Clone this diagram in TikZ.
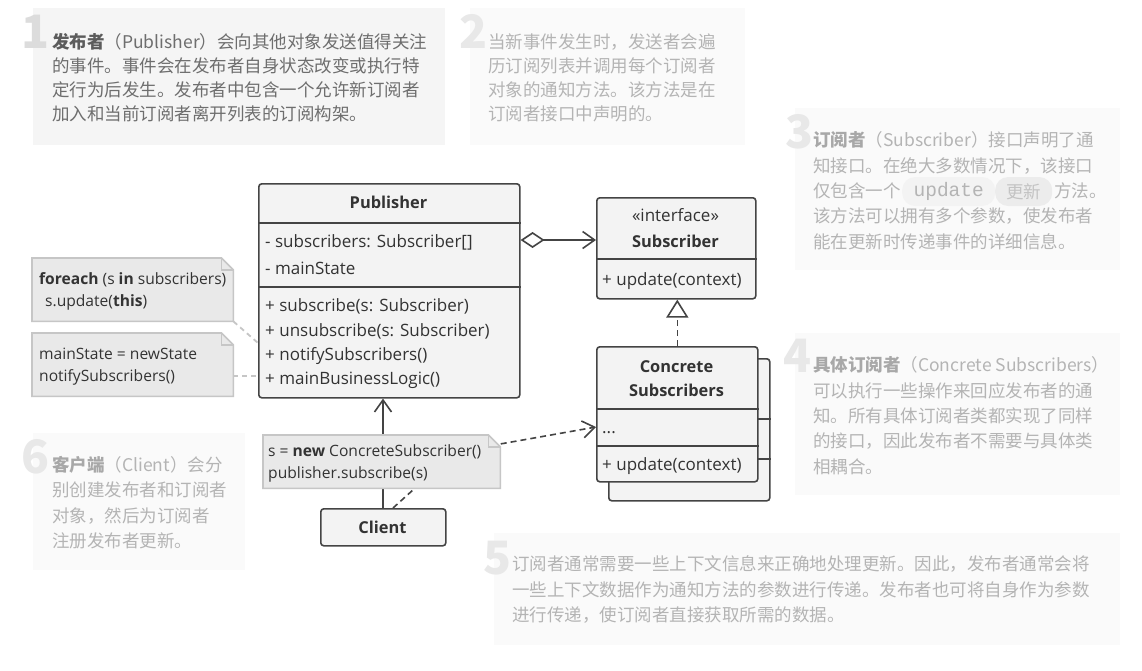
\documentclass[tikz,border=0pt]{standalone}
\usepackage{fontspec}
\setmainfont{Open Sans}
\newfontfamily\cjk{Noto Sans CJK SC}
\newfontfamily\codefont{Liberation Mono}
\usetikzlibrary{arrows.meta}
\definecolor{pbgA}{HTML}{F5F5F5}
\definecolor{pbg}{HTML}{FAFAFA}
\definecolor{ptxtA}{HTML}{6E6E6E}
\definecolor{ptxtAb}{HTML}{5C5C5C}
\definecolor{ptxt}{HTML}{B4B4B4}
\definecolor{ptxtb}{HTML}{A8A8A8}
\definecolor{digA}{HTML}{DCDCDC}
\definecolor{dig}{HTML}{E8E8E8}
\definecolor{umlline}{HTML}{444444}
\definecolor{umlfill}{HTML}{F3F3F3}
\definecolor{umltext}{HTML}{333333}
\definecolor{notefill}{HTML}{E9E9E9}
\definecolor{noteline}{HTML}{C6C6C6}
\definecolor{pillA}{HTML}{F3F3F3}
\definecolor{pillB}{HTML}{ECECEC}
\newcommand\umlfont{\fontsize{17}{20}\selectfont}
\newcommand\umltitlefont{\fontsize{16.4}{20}\selectfont\bfseries}
\newcommand\notefont{\fontsize{15.6}{20}\selectfont}
\newcommand\pfont{\cjk\fontsize{17.5}{24}\selectfont}
\newcommand\pfontb{\cjk\fontsize{17.5}{25.3}\selectfont}
\tikzset{
  digit/.style={anchor=base west, inner sep=0, font=\cjk\bfseries\fontsize{46}{46}\selectfont, text=#1},
  ptext/.style={anchor=base west, inner sep=0, align=left, text=#1},
  umlbox/.style={draw=umlline, fill=umlfill, line width=1.6pt, rounded corners=3pt, inner sep=0, anchor=north west},
  divider/.style={draw=umlline, line width=1.6pt},
  umltxt/.style={anchor=base west, inner sep=0, font=\umlfont, text=umltext},
  umltitle/.style={anchor=base, inner sep=0, font=\umltitlefont, text=umltext},
  notebox/.style={inner sep=0, anchor=north west},
  noteshape/.style={fill=notefill, draw=noteline, line width=1.6pt},
  notetxt/.style={anchor=base west, inner sep=0, font=\notefont, text=umltext},
  noteconn/.style={draw=noteline, line width=1.8pt, dash pattern=on 5pt off 4pt},
  conn/.style={draw=umlline, line width=1.6pt},
  dep/.style={conn, dash pattern=on 6pt off 4pt},
  openhead/.style={-{Straight Barb[length=12pt,width=17pt]}},
  pill/.style={inner sep=0, rounded corners=13pt, fill=#1, anchor=west},
}
\begin{document}
\begin{tikzpicture}[x=1pt,y=-1pt]
\fill[white] (0,0) rectangle (1142,670);
\useasboundingbox (0,0) rectangle (1142,670);

% ---------- panels ----------
\fill[pbgA] (33,8) rectangle (445,145);
\fill[pbg] (470,8) rectangle (745,145);
\fill[pbg] (795,108) rectangle (1120,270);
\fill[pbg] (795,333) rectangle (1120,495);
\fill[pbg] (494,533) rectangle (1120,645);
\fill[pbg] (33,433) rectangle (245,570);

\node[digit=digA] (d1) at (21,48) {1};
\node[digit=dig] (d2) at (459,48) {2};
\node[digit=dig] (d3) at (785,148) {3};
\node[digit=dig] (d4) at (783,372) {4};
\node[digit=dig] (d5) at (483,574) {5};
\node[digit=dig] (d6) at (21,473) {6};

% (base anchor of a multi-line node = baseline of its last line)
\node[ptext=ptxtA, font=\pfont] (t1) at (52,120.5)
  {\textcolor{ptxtAb}{\bfseries 发布者}（Publisher）会向其他对象发送值得关注\\
   的事件。事件会在发布者自身状态改变或执行特\\
   定行为后发生。发布者中包含一个允许新订阅者\\
   加入和当前订阅者离开列表的订阅构架。};
\node[ptext=ptxt, font=\pfont] (t2) at (488,120.5)
  {当新事件发生时，发送者会遍\\
   历订阅列表并调用每个订阅者\\
   对象的通知方法。该方法是在\\
   订阅者接口中声明的。};
\node[pill=pillA, minimum width=93pt, minimum height=29pt] (upd) at (902,191.5)
  {\codefont\fontsize{19.5}{20}\selectfont\textcolor{ptxt}{update}};
\node[pill=pillB, minimum width=57pt, minimum height=29pt] (gx) at (995,191.5)
  {\pfont\textcolor{ptxt!80!white}{更新}};
\node[ptext=ptxt, font=\pfontb] (t3) at (813,248)
  {\textcolor{ptxtb}{\bfseries 订阅者}（Subscriber）接口声明了通\\
   知接口。在绝大多数情况下，该接口\\
   仅包含一个\\
   该方法可以拥有多个参数，使发布者\\
   能在更新时传递事件的详细信息。};
\node[ptext=ptxt, font=\pfont] (t3b) at (1054,197) {方法。};
\node[ptext=ptxt, font=\pfontb] (t4) at (813,473)
  {\textcolor{ptxtb}{\bfseries 具体订阅者}（Concrete Subscribers）\\
   可以执行一些操作来回应发布者的通\\
   知。所有具体订阅者类都实现了同样\\
   的接口，因此发布者不需要与具体类\\
   相耦合。};
\node[ptext=ptxt, font=\pfontb] (t5) at (512,621.5)
  {订阅者通常需要一些上下文信息来正确地处理更新。因此，发布者通常会将\\
   一些上下文数据作为通知方法的参数进行传递。发布者也可将自身作为参数\\
   进行传递，使订阅者直接获取所需的数据。};
\node[ptext=ptxt, font=\pfontb] (t6) at (52,547.5)
  {\textcolor{ptxtb}{\bfseries 客户端}（Client）会分\\
   别创建发布者和订阅者\\
   对象，然后为订阅者\\
   注册发布者更新。};

% ---------- Publisher ----------
\node[umlbox, minimum width=261pt, minimum height=214pt] (pub) at (258,183) {};
\draw[divider] (pub.west |- 0,223) -- (pub.east |- 0,223);
\draw[divider] (pub.west |- 0,287) -- (pub.east |- 0,287);
\node[umltitle] (pubT) at (388.5,208) {Publisher};
\node[umltxt] (pa1) at (265,247) {- subscribers: Subscriber[]};
\node[umltxt] (pa2) at (265,274) {- mainState};
\node[umltxt] (pm1) at (265,311) {+ subscribe(s: Subscriber)};
\node[umltxt] (pm2) at (265,336) {+ unsubscribe(s: Subscriber)};
\node[umltxt] (pm3) at (265,360) {+ notifySubscribers()};
\node[umltxt] (pm4) at (265,384) {+ mainBusinessLogic()};

% ---------- Subscriber ----------
\node[umlbox, minimum width=159pt, minimum height=101pt] (sub) at (596,197) {};
\draw[divider] (sub.west |- 0,259) -- (sub.east |- 0,259);
\node[anchor=base, inner sep=0, font=\umlfont, text=umltext] (subS) at (675.5,221) {«interface»};
\node[umltitle] (subT) at (675.5,247) {Subscriber};
\node[umltxt] (subM) at (602,285) {+ update(context)};

% ---------- Concrete Subscribers ----------
\node[umlbox, minimum width=161pt, minimum height=142pt] (conbk) at (608,358) {};
\draw[divider] (conbk.west |- 0,419) -- (conbk.east |- 0,419);
\draw[divider] (conbk.west |- 0,459) -- (conbk.east |- 0,459);
\node[umlbox, minimum width=161pt, minimum height=135pt] (con) at (596,346) {};
\draw[divider] (con.west |- 0,409) -- (con.east |- 0,409);
\draw[divider] (con.west |- 0,446) -- (con.east |- 0,446);
\node[umltitle] (conT1) at (676.5,372) {Concrete};
\node[umltitle] (conT2) at (676.5,396) {Subscribers};
\node[umltxt] (conA) at (602,433) {...};
\node[umltxt] (conM) at (602,470) {+ update(context)};

% ---------- Client ----------
\node[umlbox, minimum width=125pt, minimum height=37pt] (cli) at (320,508) {};
\node[umltitle] (cliT) at (382.5,533) {Client};

% ---------- connectors ----------
\draw[conn, {Diamond[fill=white,length=24pt,width=16pt]}-{Straight Barb[length=12pt,width=17pt]}]
  (pub.east |- 0,240) -- (sub.west |- 0,240);
\draw[dep, -{Triangle[fill=white,length=18pt,width=22pt]}] (con.north) -- (con.north |- sub.south);
\draw[conn, openhead] (cli.north -| 383,0) -- (pub.south -| 383,0);
\coordinate (bend) at (455,452);
\draw[dep, openhead] (cli.north -| 393,0) -- (bend) -- (con.west |- 0,427);

% ---------- notes ----------
\node[notebox, minimum width=201pt, minimum height=63pt] (n1) at (32,258) {};
\node[notebox, minimum width=201pt, minimum height=63pt] (n2) at (32,333) {};
\node[notebox, minimum width=237pt, minimum height=53pt] (n3) at (263,435) {};
\draw[noteconn] (n1.south east) -- (pub.west |- 0,343);
\draw[noteconn] (n2.east |- 0,376) -- (pub.west |- 0,376);
\foreach \n in {n1,n2,n3}{
  \draw[noteshape] (\n.north west) -- ([xshift=-12pt]\n.north east) -- ([yshift=-12pt]\n.north east)
     -- (\n.south east) -- (\n.south west) -- cycle;
  \draw[draw=noteline, line width=1.6pt] ([xshift=-12pt]\n.north east) |- ([yshift=-12pt]\n.north east);
}
\node[notetxt] (n1a) at (39,284) {\textbf{foreach} (s \textbf{in} subscribers)};
\node[notetxt] (n1b) at (45,306) {s.update(\textbf{this})};
\node[notetxt] (n2a) at (39,359) {mainState = newState};
\node[notetxt] (n2b) at (39,381) {notifySubscribers()};
\node[notetxt] (n3a) at (268,456) {s = \textbf{new} ConcreteSubscriber()};
\node[notetxt] (n3b) at (268,478) {publisher.subscribe(s)};
\end{tikzpicture}
\end{document}
